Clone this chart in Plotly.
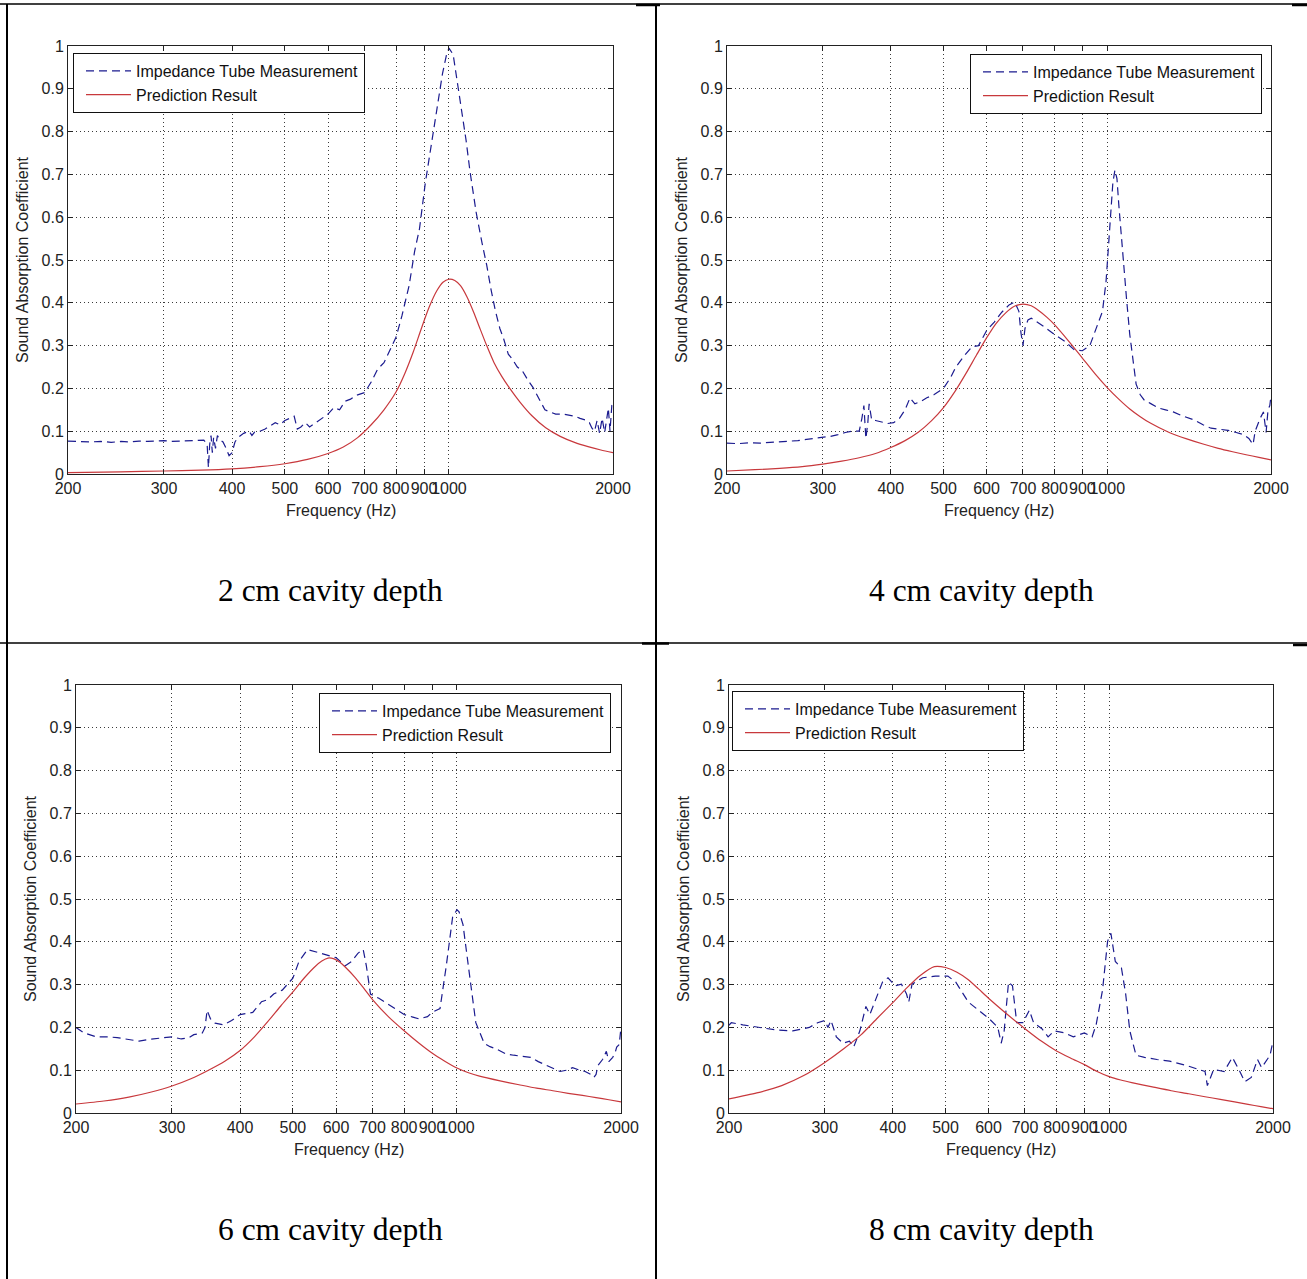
import math
import plotly.graph_objects as go

W, H = 1307, 1279

# ---------------- data ----------------
X_TICKS = [200, 300, 400, 500, 600, 700, 800, 900, 1000, 2000]
X_TICKTEXT = ["200", "300", "400", "500", "600", "700", "800", "900", "1000", "2000"]
Y_TICKS = [0, 0.1, 0.2, 0.3, 0.4, 0.5, 0.6, 0.7, 0.8, 0.9, 1]
Y_TICKTEXT = ["0", "0.1", "0.2", "0.3", "0.4", "0.5", "0.6", "0.7", "0.8", "0.9", "1"]

SERIES_NAMES = ["Impedance Tube Measurement", "Prediction Result"]
CAPTIONS = ["2 cm cavity depth", "4 cm cavity depth", "6 cm cavity depth", "8 cm cavity depth"]

# 2 cm cavity depth
f2_meas = [200, 210, 220, 230, 240, 250, 260, 270, 280, 290, 300, 310, 320, 330, 340, 350, 355,
           360, 362, 364, 366, 368, 370, 373, 376, 380, 385, 390, 395, 400, 405, 410, 420, 430,
           435, 440, 450, 460, 470, 480, 490, 500, 510, 520, 527, 535, 545, 555, 570, 585, 600,
           615, 630, 645, 660, 680, 700, 720, 740, 760, 780, 800, 820, 845, 865, 883, 905, 931,
           955, 973, 990, 1000, 1018, 1035, 1055, 1075, 1093, 1122, 1150, 1173, 1195, 1216, 1240,
           1260, 1285, 1306, 1335, 1365, 1395, 1427, 1450, 1478, 1500, 1531, 1570, 1616, 1660,
           1705, 1740, 1783, 1810, 1830, 1850, 1870, 1890, 1910, 1931, 1950, 1961, 1975, 1990, 2000]
a2_meas = [0.077, 0.076, 0.075, 0.076, 0.074, 0.076, 0.075, 0.077, 0.076, 0.077, 0.078, 0.076,
           0.077, 0.077, 0.078, 0.080, 0.079, 0.070, 0.015, 0.070, 0.090, 0.050, 0.085, 0.060,
           0.090, 0.080, 0.075, 0.060, 0.043, 0.050, 0.075, 0.085, 0.095, 0.100, 0.090, 0.098,
           0.100, 0.105, 0.112, 0.120, 0.115, 0.125, 0.130, 0.135, 0.105, 0.110, 0.120, 0.110,
           0.120, 0.130, 0.140, 0.155, 0.150, 0.170, 0.175, 0.185, 0.190, 0.215, 0.245, 0.260,
           0.290, 0.320, 0.370, 0.440, 0.520, 0.573, 0.680, 0.780, 0.880, 0.935, 0.980, 0.995,
           0.980, 0.920, 0.850, 0.780, 0.707, 0.611, 0.540, 0.488, 0.430, 0.383, 0.340, 0.316,
           0.280, 0.269, 0.250, 0.240, 0.220, 0.202, 0.185, 0.164, 0.150, 0.145, 0.140, 0.140,
           0.138, 0.135, 0.130, 0.126, 0.120, 0.107, 0.100, 0.125, 0.095, 0.130, 0.097, 0.140,
           0.154, 0.100, 0.160, 0.164]
f2_pred = [200, 250, 300, 350, 400, 450, 500, 550, 600, 640, 680, 720, 760, 800, 830, 860, 890,
           920, 950, 975, 1000, 1025, 1050, 1080, 1110, 1140, 1173, 1210, 1250, 1293, 1350, 1420,
           1505, 1600, 1700, 1800, 1900, 2000]
a2_pred = [0.003, 0.005, 0.007, 0.009, 0.012, 0.017, 0.024, 0.034, 0.048, 0.063, 0.085, 0.115,
           0.150, 0.192, 0.235, 0.285, 0.340, 0.390, 0.428, 0.448, 0.455, 0.452, 0.440, 0.413,
           0.378, 0.340, 0.300, 0.260, 0.228, 0.200, 0.168, 0.136, 0.108, 0.088, 0.074, 0.064,
           0.056, 0.050]

# 4 cm cavity depth
f4_meas = [200, 210, 220, 230, 240, 250, 260, 270, 280, 290, 300, 310, 320, 330, 340, 350, 354,
           357, 360, 363, 365, 369, 375, 385, 395, 405, 415, 425, 434, 443, 455, 466, 480, 500,
           515, 527, 545, 564, 580, 600, 620, 640, 660, 676, 688, 694, 700, 706, 715, 725, 745,
           764, 800, 836, 870, 900, 929, 955, 980, 995, 1006, 1016, 1024, 1033, 1042, 1050, 1060,
           1070, 1085, 1100, 1115, 1130, 1150, 1169, 1200, 1244, 1280, 1322, 1380, 1446, 1500,
           1552, 1600, 1667, 1726, 1780, 1821, 1854, 1870, 1888, 1910, 1937, 1959, 1975, 1990, 2000]
a4_meas = [0.072, 0.071, 0.073, 0.072, 0.074, 0.075, 0.076, 0.078, 0.081, 0.083, 0.086, 0.088,
           0.092, 0.097, 0.100, 0.100, 0.130, 0.160, 0.083, 0.120, 0.164, 0.126, 0.125, 0.122,
           0.118, 0.120, 0.130, 0.150, 0.178, 0.164, 0.170, 0.178, 0.185, 0.200, 0.225, 0.250,
           0.275, 0.297, 0.300, 0.335, 0.355, 0.378, 0.395, 0.402, 0.380, 0.330, 0.300, 0.340,
           0.360, 0.364, 0.355, 0.345, 0.326, 0.310, 0.290, 0.288, 0.300, 0.340, 0.380, 0.450,
           0.535, 0.620, 0.680, 0.710, 0.690, 0.630, 0.560, 0.490, 0.410, 0.326, 0.260, 0.210,
           0.185, 0.173, 0.165, 0.154, 0.150, 0.145, 0.135, 0.126, 0.115, 0.107, 0.105, 0.102,
           0.097, 0.092, 0.083, 0.069, 0.100, 0.116, 0.130, 0.145, 0.097, 0.150, 0.160, 0.183]
f4_pred = [200, 225, 250, 275, 300, 325, 350, 375, 400, 425, 450, 475, 500, 525, 550, 575, 600,
           625, 650, 675, 700, 725, 750, 775, 800, 850, 900, 950, 1000, 1050, 1100, 1150, 1200,
           1300, 1400, 1500, 1600, 1700, 1800, 1900, 2000]
a4_pred = [0.007, 0.010, 0.013, 0.017, 0.023, 0.030, 0.038, 0.048, 0.062, 0.078, 0.098, 0.124,
           0.155, 0.193, 0.235, 0.278, 0.318, 0.352, 0.376, 0.392, 0.397, 0.393, 0.381, 0.366,
           0.349, 0.310, 0.271, 0.234, 0.202, 0.175, 0.152, 0.134, 0.119, 0.097, 0.082, 0.070,
           0.060, 0.052, 0.045, 0.039, 0.033]

# 6 cm cavity depth
f6_meas = [200, 207, 218, 229, 238, 247, 261, 272, 285, 300, 312, 322, 329, 341, 345, 348, 353,
           360, 373, 386, 400, 422, 438, 450, 461, 478, 500, 513, 532, 545, 561, 580, 600, 624,
           641, 658, 673, 682, 694, 719, 758, 800, 830, 852, 883, 900, 931, 956, 982, 1000, 1009,
           1026, 1054, 1083, 1122, 1150, 1183, 1230, 1271, 1320, 1365, 1410, 1465, 1500, 1546,
           1590, 1630, 1680, 1719, 1760, 1783, 1800, 1814, 1850, 1880, 1900, 1931, 1950, 1964,
           1985, 2000]
a6_meas = [0.200, 0.187, 0.178, 0.178, 0.176, 0.173, 0.168, 0.172, 0.175, 0.178, 0.173, 0.176,
           0.183, 0.187, 0.200, 0.240, 0.220, 0.210, 0.206, 0.216, 0.230, 0.235, 0.260, 0.265,
           0.278, 0.287, 0.315, 0.354, 0.382, 0.378, 0.373, 0.368, 0.363, 0.344, 0.354, 0.373,
           0.382, 0.344, 0.278, 0.268, 0.249, 0.230, 0.224, 0.220, 0.225, 0.235, 0.244, 0.344,
           0.458, 0.475, 0.470, 0.440, 0.325, 0.211, 0.163, 0.155, 0.149, 0.138, 0.135, 0.132,
           0.130, 0.120, 0.111, 0.105, 0.097, 0.100, 0.106, 0.100, 0.097, 0.090, 0.083, 0.090,
           0.111, 0.125, 0.144, 0.120, 0.130, 0.140, 0.154, 0.160, 0.200]
f6_pred = [200, 225, 250, 275, 300, 325, 350, 375, 400, 425, 450, 475, 500, 525, 550, 565, 580,
           595, 610, 625, 650, 675, 700, 750, 800, 850, 900, 950, 1000, 1050, 1100, 1200, 1300,
           1400, 1500, 1600, 1700, 1800, 1900, 2000]
a6_pred = [0.021, 0.028, 0.037, 0.049, 0.063, 0.080, 0.100, 0.121, 0.146, 0.178, 0.214, 0.250,
           0.283, 0.316, 0.343, 0.355, 0.362, 0.360, 0.352, 0.340, 0.317, 0.291, 0.265, 0.224,
           0.192, 0.164, 0.140, 0.121, 0.105, 0.094, 0.086, 0.075, 0.066, 0.058, 0.052, 0.046,
           0.041, 0.036, 0.031, 0.026]

# 8 cm cavity depth
f8_meas = [200, 202, 212, 227, 244, 262, 281, 291, 300, 304, 308, 315, 324, 333, 339, 348, 357,
           363, 373, 383, 392, 404, 415, 424, 428, 434, 454, 479, 505, 522, 551, 581, 602, 624,
           633, 641, 653, 664, 676, 694, 713, 726, 752, 772, 793, 828, 859, 900, 930, 946, 972,
           993, 1007, 1026, 1053, 1072, 1091, 1120, 1161, 1224, 1291, 1386, 1462, 1500, 1515,
           1556, 1626, 1684, 1730, 1775, 1824, 1873, 1906, 1941, 1975, 2000]
a8_meas = [0.205, 0.211, 0.206, 0.200, 0.194, 0.192, 0.200, 0.211, 0.216, 0.200, 0.216, 0.178,
           0.163, 0.168, 0.154, 0.192, 0.249, 0.230, 0.268, 0.306, 0.316, 0.297, 0.301, 0.278,
           0.259, 0.301, 0.316, 0.320, 0.320, 0.306, 0.259, 0.235, 0.220, 0.200, 0.163, 0.192,
           0.306, 0.297, 0.211, 0.211, 0.240, 0.211, 0.197, 0.178, 0.192, 0.187, 0.178, 0.187,
           0.178, 0.206, 0.287, 0.401, 0.420, 0.354, 0.339, 0.278, 0.192, 0.135, 0.130, 0.125,
           0.121, 0.111, 0.102, 0.097, 0.064, 0.102, 0.097, 0.130, 0.102, 0.073, 0.083, 0.125,
           0.106, 0.121, 0.135, 0.168]
f8_pred = [200, 225, 250, 275, 300, 325, 350, 375, 400, 425, 450, 477, 500, 525, 550, 575, 600,
           650, 700, 750, 800, 850, 900, 950, 1000, 1050, 1100, 1200, 1300, 1400, 1500, 1600, 1700,
           1800, 1900, 2000]
a8_pred = [0.033, 0.047, 0.064, 0.088, 0.118, 0.150, 0.183, 0.222, 0.258, 0.293, 0.322, 0.342,
           0.340, 0.329, 0.312, 0.290, 0.268, 0.230, 0.197, 0.168, 0.145, 0.128, 0.113, 0.097,
           0.085, 0.077, 0.071, 0.061, 0.052, 0.045, 0.038, 0.032, 0.026, 0.020, 0.015, 0.010]

MEAS = [(f2_meas, a2_meas), (f4_meas, a4_meas), (f6_meas, a6_meas), (f8_meas, a8_meas)]
PRED = [(f2_pred, a2_pred), (f4_pred, a4_pred), (f6_pred, a6_pred), (f8_pred, a8_pred)]

# ---------------- layout (pixel boxes) ----------------
BOXES = [(68, 613, 46, 474), (727, 1271, 46, 474), (76, 621, 685, 1113), (729, 1273, 685, 1113)]
LEGEND_POS = [(73, 53), (970, 54), (319, 693), (732, 691)]
CAPTION_POS = [(330, 590), (981, 590), (330, 1229), (981, 1229)]

BLUE = "#1b1b8f"
RED = "#c8383c"
SANS = "Liberation Sans, Arial, sans-serif"
TICKFONT = dict(family=SANS, size=16, color="#222222")


def px(xp):
    return xp / W


def py(yp):
    return 1 - yp / H


fig = go.Figure()
for i in range(4):
    xa = "x" if i == 0 else f"x{i+1}"
    ya = "y" if i == 0 else f"y{i+1}"
    lg = "legend" if i == 0 else f"legend{i+1}"
    fm, am = MEAS[i]
    fp, ap = PRED[i]
    fig.add_trace(go.Scatter(x=fm, y=am, mode="lines", name=SERIES_NAMES[0],
                             line=dict(color=BLUE, width=1.2, dash="8px,5px"),
                             xaxis=xa, yaxis=ya, legend=lg))
    fig.add_trace(go.Scatter(x=fp, y=ap, mode="lines", name=SERIES_NAMES[1],
                             line=dict(color=RED, width=1.2, shape="spline", smoothing=0.7),
                             xaxis=xa, yaxis=ya, legend=lg))

layout = dict(width=W, height=H, margin=dict(l=0, r=0, t=0, b=0),
              paper_bgcolor="white", plot_bgcolor="white", showlegend=True)

annotations = []
shapes = []
for i, (l, r, t, b) in enumerate(BOXES):
    xk = "xaxis" if i == 0 else f"xaxis{i+1}"
    yk = "yaxis" if i == 0 else f"yaxis{i+1}"
    yanchor = "y" if i == 0 else f"y{i+1}"
    xanchor = "x" if i == 0 else f"x{i+1}"
    common = dict(ticks="inside", ticklen=5, tickcolor="#222", showline=True,
                  linecolor="#222", linewidth=1, mirror="ticks", showgrid=True,
                  gridcolor="#3a3a3a", griddash="1px,3px", gridwidth=1, zeroline=False,
                  tickfont=TICKFONT, automargin=False)
    layout[xk] = dict(type="log", domain=[px(l), px(r)], range=[math.log10(200), math.log10(2000)],
                      anchor=yanchor, tickvals=X_TICKS, ticktext=X_TICKTEXT, tickangle=0, **common)
    layout[yk] = dict(domain=[py(b), py(t)], range=[0, 1], anchor=xanchor,
                      tickvals=Y_TICKS, ticktext=Y_TICKTEXT, **common)
    lgk = "legend" if i == 0 else f"legend{i+1}"
    lx, ly = LEGEND_POS[i]
    layout[lgk] = dict(x=px(lx), y=py(ly), xanchor="left", yanchor="top", bgcolor="white",
                       bordercolor="#111", borderwidth=1, itemwidth=45, tracegroupgap=0,
                       indentation=7,
                       font=dict(family=SANS, size=16, color="#111"))
    annotations.append(dict(x=px((l + r) / 2), y=py(t + 464), xref="paper", yref="paper",
                            text="Frequency (Hz)", showarrow=False, xanchor="center", yanchor="middle",
                            font=dict(family=SANS, size=16, color="#222")))
    annotations.append(dict(x=px(l - 46), y=py((t + b) / 2), xref="paper", yref="paper",
                            text="Sound Absorption Coefficient", textangle=-90, showarrow=False,
                            xanchor="center", yanchor="middle",
                            font=dict(family=SANS, size=16, color="#222")))
    cx, cy = CAPTION_POS[i]
    annotations.append(dict(x=px(cx), y=py(cy), xref="paper", yref="paper", text=CAPTIONS[i],
                            showarrow=False, xanchor="center", yanchor="middle",
                            font=dict(family="Liberation Serif, Times New Roman, serif", size=31.5,
                                      color="#000")))


def hline(x0, x1, y, w):
    return dict(type="line", xref="paper", yref="paper", x0=px(x0), x1=px(x1), y0=py(y), y1=py(y),
                line=dict(color="black", width=w))


def vline(x, y0, y1, w):
    return dict(type="line", xref="paper", yref="paper", x0=px(x), x1=px(x), y0=py(y0), y1=py(y1),
                line=dict(color="black", width=w))


shapes += [hline(0, 1307, 4, 1.5), vline(7, 4, 1279, 2), vline(656, 4, 1279, 2),
           hline(0, 1307, 643, 1.5), hline(642, 669, 643.5, 2.5), hline(1293, 1307, 645, 2.5),
           hline(636, 660, 5, 2.5), hline(1292, 1307, 5, 2.5)]

layout["annotations"] = annotations
layout["shapes"] = shapes
fig.update_layout(**layout)

fig.write_html("out.html", config={"displayModeBar": False},
               post_script="document.body.style.margin='0';document.body.style.overflow='hidden';")
